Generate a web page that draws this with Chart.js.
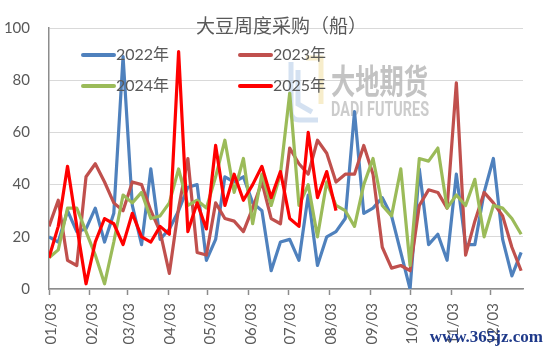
<!DOCTYPE html>
<html><head><meta charset="utf-8">
<script src="https://cdn.jsdelivr.net/npm/chart.js@4/dist/chart.umd.min.js"></script>
<style>html,body{margin:0;padding:0;background:#fff}canvas{display:block}</style>
</head><body>
<canvas id="c" width="550" height="354"></canvas>
<script>
// ---- data ----
const chartTitle = '大豆周度采购（船）';
const weekNumbers = [1,2,3,4,5,6,7,8,9,10,11,12,13,14,15,16,17,18,19,20,21,22,23,24,25,26,
  27,28,29,30,31,32,33,34,35,36,37,38,39,40,41,42,43,44,45,46,47,48,49,50,51,52];
// days after Jan 3 at which each month tick (MM/03) falls
const monthTickOffsetsDays = [0,31,59,90,120,151,181,212,243,273,304,334];
const monthTickLabels = ['01/03','02/03','03/03','04/03','05/03','06/03','07/03','08/03','09/03','10/03','11/03','12/03'];
const seriesNames = ['2022年','2023年','2024年','2025年'];
const values2022 = [20,18,30,22,23,31,18,29,89,32,17,46,19,23,30,39,40,11,19,43,41,43,33,30,7,18,
  19,11,36,9,20,22,27,68,29,31,35,28,14,0,46,17,21,11,44,17,17,37,50,19,5,14];
const values2023 = [24,34,11,9,43,48,41,33,30,41,40,30,22,6,31,50,14,13,33,27,26,22,31,41,27,25,
  54,48,44,57,52,41,44,44,55,44,16,8,9,7,32,38,37,31,79,13,26,37,33,28,16,7];
const values2024 = [12,15,31,31,22,13,2,18,36,33,37,27,28,33,46,32,34,31,43,57,37,50,25,44,32,44,
  75,32,40,20,41,32,30,24,40,50,32,28,46,9,50,49,54,31,36,32,42,20,32,31,27,21];
const values2025 = [12,24,47,24,2,18,27,25,17,29,20,18,24,21,91,22,33,23,55,32,44,34,40,47,35,45,
  27,24,60,35,45,30];
const yTicksStep = 20;

const colors = ['#4F81BD','#C0504D','#9BBB59','#FF0000'];
const textColor = '#595959';
const axisColor = '#8c8c8c';

const overlay = {
  id: 'overlay',
  beforeDatasetsDraw(chart) {
    const ctx = chart.ctx;
    ctx.save();
    // faint logo mark
    ctx.lineWidth = 5;
    ctx.strokeStyle = 'rgba(240,222,160,0.55)';
    ctx.beginPath(); ctx.moveTo(306, 58); ctx.lineTo(321, 58); ctx.lineTo(321, 104); ctx.stroke();
    ctx.strokeStyle = 'rgba(170,196,228,0.5)';
    ctx.beginPath();
    ctx.moveTo(291, 62); ctx.lineTo(291, 112); ctx.quadraticCurveTo(291, 120, 300, 120); ctx.lineTo(318, 120);
    ctx.stroke();
    ctx.beginPath(); ctx.moveTo(298, 70); ctx.lineTo(298, 104); ctx.lineTo(312, 112); ctx.stroke();
    ctx.fillStyle = 'rgba(185,185,185,0.85)';
    ctx.textBaseline = 'middle';
    ctx.textAlign = 'left';
    ctx.font = 'bold 30px "Noto Sans CJK SC"';
    let t = '大地期货';
    let w = ctx.measureText(t).width;
    ctx.save(); ctx.translate(331, 81); ctx.scale(97 / w, 1.15); ctx.fillText(t, 0, 0); ctx.restore();
    ctx.fillStyle = 'rgba(195,195,195,0.85)';
    ctx.font = 'bold 20px Roboto';
    t = 'DADI FUTURES';
    w = ctx.measureText(t).width;
    ctx.save(); ctx.translate(331, 111); ctx.scale(98 / w, 1); ctx.fillText(t, 0, 0); ctx.restore();
    ctx.restore();
  },
  afterDatasetsDraw(chart) {
    const ctx = chart.ctx;
    ctx.save();
    ctx.fillStyle = textColor;
    ctx.textBaseline = 'middle';
    ctx.textAlign = 'center';
    ctx.font = '19px "Noto Sans CJK SC"';
    ctx.fillText(chartTitle, 281.5, 26);
    // legend 2x2
    const pos = [[83, 55], [240, 55], [83, 86], [240, 86]];
    chart.data.datasets.forEach((ds, i) => {
      const [lx, ly] = pos[i];
      ctx.strokeStyle = ds.borderColor;
      ctx.lineWidth = 4;
      ctx.lineCap = 'round';
      ctx.beginPath(); ctx.moveTo(lx, ly); ctx.lineTo(lx + 31, ly); ctx.stroke();
      ctx.fillStyle = textColor;
      ctx.textAlign = 'left';
      ctx.font = '16px Lato, "Noto Sans CJK SC"';
      ctx.fillText(ds.label, lx + 33, ly);
    });
    ctx.restore();
  },
  afterDraw(chart) {
    const ctx = chart.ctx;
    ctx.save();
    ctx.fillStyle = '#1f3a8a';
    ctx.font = 'bold 17px "Liberation Serif"';
    ctx.textBaseline = 'alphabetic';
    ctx.textAlign = 'right';
    ctx.fillText('www.365jz.com', 543, 342);
    ctx.restore();
  }
};

const seriesValues = [values2022, values2023, values2024, values2025];
new Chart(document.getElementById('c'), {
  type: 'line',
  data: {
    labels: weekNumbers,
    datasets: seriesNames.map((name, i) => ({
      label: name,
      data: seriesValues[i],
      borderColor: colors[i],
      backgroundColor: colors[i],
      borderWidth: 3.2,
      pointRadius: 0,
      tension: 0,
      fill: false,
      borderJoinStyle: 'round',
      order: 4 - i
    }))
  },
  options: {
    responsive: false,
    animation: false,
    layout: { padding: { left: 0, top: 13, right: 27, bottom: 0 } },
    plugins: { legend: { display: false }, title: { display: false }, tooltip: { enabled: false } },
    scales: {
      x: {
        type: 'linear',
        min: 1,
        max: 52.2,
        afterBuildTicks: s => { s.ticks = monthTickOffsetsDays.map(d => ({ value: 1 + d / 7 })); },
        afterFit: s => { s.height = 65; },
        ticks: {
          autoSkip: false, maxRotation: 90, minRotation: 90, padding: 8, labelOffset: 2,
          color: textColor, font: { family: 'Lato', size: 15 },
          callback: (v, i) => monthTickLabels[i]
        },
        grid: { drawOnChartArea: false, drawTicks: true, tickLength: 6, tickColor: axisColor, tickWidth: 1.5 },
        border: { color: axisColor, width: 1.5 }
      },
      y: {
        min: 0, max: 100,
        afterFit: s => { s.width = 49; },
        ticks: { stepSize: yTicksStep, padding: 19, color: textColor, font: { family: 'Lato', size: 15 } },
        grid: { color: '#d9d9d9', lineWidth: 1, drawTicks: false },
        border: { color: axisColor, width: 1.5 }
      }
    }
  },
  plugins: [overlay]
});
</script>
</body></html>
